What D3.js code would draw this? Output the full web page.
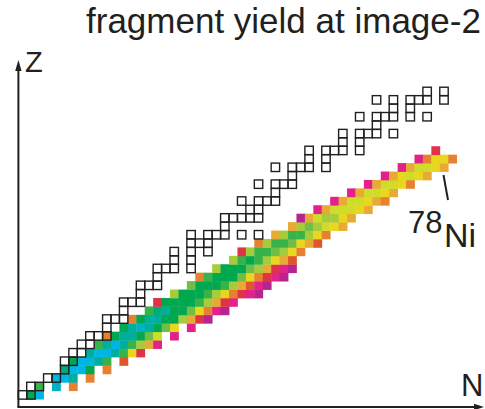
<!DOCTYPE html>
<html>
<head>
<meta charset="utf-8">
<script src="https://cdn.jsdelivr.net/npm/d3@7"></script>
<style>
  html, body { margin: 0; padding: 0; background: #fff; }
  svg { display: block; }
</style>
</head>
<body>
<svg id="chart" width="485" height="409"></svg>
<script>
// Proton number of each row of the yield map
const zRows = [1,2,3,4,5,6,7,8,9,10,11,12,13,14,15,16,17,18,19,20,21,22,23,24,25,26,27,28,29,30];
// First neutron number drawn in each row
const nStart = [1,2,4,5,6,8,9,10,12,13,15,16,18,20,21,23,25,26,28,30,32,33,35,37,39,41,43,45,47,49];
// Yield level per nuclide, 0 = lowest, 15 = highest (null = not produced)
const yieldLevels = [
  [11,15],
  [10,null,14,null,4],
  [15,15,13,null,4],
  [12,15,15,11,null,4],
  [11,15,15,13,10,null,3],
  [13,15,15,13,10,6,2],
  [10,13,15,13,10,8,5,1],
  [4,11,13,13,11,9,7,null,1],
  [11,13,14,13,11,9,6,null,1],
  [4,11,13,13,11,11,8,5,2,0],
  [10,12,13,11,11,9,6,4,1,0],
  [2,11,11,11,11,10,8,5,2,1],
  [8,11,11,11,10,8,6,4,2,1,0],
  [9,11,11,11,10,8,5,3,1,0],
  [4,10,11,11,11,9,6,4,2,1,0],
  [8,11,11,11,9,8,5,2,1,0],
  [8,10,11,10,8,6,5,3],
  [2,8,10,10,9,8,6,4],
  [4,8,10,10,9,6,5,3],
  [5,8,10,10,8,6,4],
  [5,8,9,8,7,6,5],
  [0,5,7,8,8,6,5],
  [1,5,7,7,7,6,5],
  [1,5,7,7,6,5,4],
  [1,5,7,7,6,5],
  [1,5,7,7,6,4],
  [1,5,6,7,6,5],
  [1,5,7,7,6,5],
  [1,4,6,6,4],
  [2]
];
// Stable isotopes (neutron numbers) for Z = 1 .. 37, drawn as open squares
const stableN = [
  [0,1],[1,2],[3,4],[5],[5,6],[6,7],[7,8],[8,9,10],[10],[10,11,12],
  [12],[12,13,14],[14],[14,15,16],[16],[16,17,18,20],[18,20],[18,20,22],[20,21,22],[20,22,23,24,26,28],
  [24],[24,25,26,27,28],[27,28],[26,28,29,30],[30],[28,30,31,32],[32],[30,32,33,34,36],[34,36],[34,36,37,38,40],
  [38,40],[38,40,41,42,44],[42],[40,42,43,44,46,48],[44,46],[42,44,46,47,48,50],[48,50]
];
// Colour of each yield level
const levelColors = [
  "#b7238f","#e2218b","#df3347","#e0562c","#e5812f","#e9aa35","#e8d61f","#cfdc2a",
  "#a6cc3b","#6fbe46","#37b34a","#00a84f","#00aa78","#00ae9e","#00b1c3","#00b4e4"
];

const svg = d3.select("#chart");
const cell = 8.43;
const x = d3.scaleLinear().domain([0, 52]).range([18.27, 18.27 + 52 * cell]);
const y = d3.scaleLinear().domain([0, 40]).range([399.13, 399.13 - 40 * cell]);
const color = d3.scaleOrdinal().domain(d3.range(levelColors.length)).range(levelColors);

// flatten rows into nuclides
const nuclides = [];
zRows.forEach((z, i) => {
  yieldLevels[i].forEach((lv, k) => {
    if (lv !== null) nuclides.push({ z, n: nStart[i] + k, level: lv });
  });
});
const stable = [];
stableN.forEach((ns, i) => ns.forEach(n => stable.push({ z: i + 1, n })));

const ink = "#231f20";

svg.append("g").selectAll("rect")
  .data(nuclides)
  .join("rect")
  .attr("x", d => x(d.n))
  .attr("y", d => y(d.z))
  .attr("width", d => x(d.n + 1) - x(d.n) + 0.4)
  .attr("height", d => y(d.z - 1) - y(d.z) + 0.4)
  .attr("fill", d => color(d.level));

svg.append("g").selectAll("rect")
  .data(stable)
  .join("rect")
  .attr("x", d => x(d.n))
  .attr("y", d => y(d.z))
  .attr("width", d => x(d.n + 1) - x(d.n))
  .attr("height", d => y(d.z - 1) - y(d.z))
  .attr("fill", "none")
  .attr("stroke", ink)
  .attr("stroke-width", 1.4);

// axes with arrow heads
const ax = svg.append("g").attr("stroke", ink).attr("stroke-width", 2);
ax.append("line").attr("x1", 18.4).attr("y1", 407).attr("x2", 18.4).attr("y2", 68);
ax.append("line").attr("x1", 17.4).attr("y1", 407).attr("x2", 476).attr("y2", 407);
svg.append("path").attr("d", "M18.4,60 L21.6,71 L15.2,71 Z").attr("fill", ink);
svg.append("path").attr("d", "M484,407 L474,403.8 L474,410.2 Z").attr("fill", ink);

const font = "'Liberation Sans', Arial, Helvetica, sans-serif";
svg.append("text").attr("x", 86).attr("y", 33)
  .attr("font-family", font).attr("font-size", 35).attr("fill", ink)
  .text("fragment yield at image-2");
svg.append("text").attr("x", 25).attr("y", 72)
  .attr("font-family", font).attr("font-size", 29).attr("fill", ink)
  .text("Z");
svg.append("text").attr("x", 461).attr("y", 396)
  .attr("font-family", font).attr("font-size", 31).attr("fill", ink)
  .text("N");

// label for 78Ni with pointer line
svg.append("line").attr("x1", 443.5).attr("y1", 175).attr("x2", 448).attr("y2", 200)
  .attr("stroke", ink).attr("stroke-width", 2);
const lab = svg.append("text").attr("font-family", font).attr("fill", ink);
lab.append("tspan").attr("x", 408).attr("y", 233).attr("font-size", 31).text("78");
lab.append("tspan").attr("x", 444).attr("y", 247).attr("font-size", 34).text("Ni");
</script>
</body>
</html>
